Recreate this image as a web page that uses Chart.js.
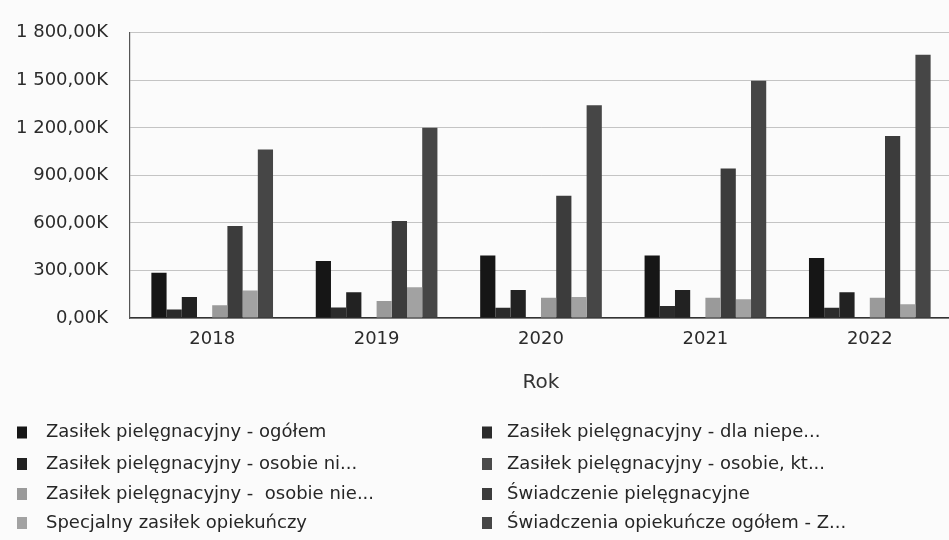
<!DOCTYPE html>
<html>
<head>
<meta charset="utf-8">
<script src="https://cdn.jsdelivr.net/npm/chart.js@4.4.0/dist/chart.umd.min.js"></script>
<style>
html, body { margin: 0; padding: 0; background: #fbfbfb; overflow: hidden; }
#wrap { position: relative; width: 952px; height: 540px; }
</style>
</head>
<body>
<div id="wrap"><canvas id="c" width="952" height="540"></canvas></div>
<script>
// ---- data (values in thousands) ----
const categories = ['2018', '2019', '2020', '2021', '2022'];
const seriesNames = [
  'Zasiłek pielęgnacyjny - ogółem',
  'Zasiłek pielęgnacyjny - dla niepe...',
  'Zasiłek pielęgnacyjny - osobie ni...',
  'Zasiłek pielęgnacyjny - osobie, kt...',
  'Zasiłek pielęgnacyjny -  osobie nie...',
  'Świadczenie pielęgnacyjne',
  'Specjalny zasiłek opiekuńczy',
  'Świadczenia opiekuńcze ogółem - Z...'
];
const zasilekOgolem        = [286, 359, 394, 394, 379];
const zasilekDlaNiepelnospr = [54, 66, 64, 76, 64];
const zasilekOsobieNi      = [132, 163, 177, 177, 163];
const zasilekOsobieKt      = [0, 0, 0, 0, 0];
const zasilekOsobieNie     = [80, 107, 128, 128, 128];
const swiadczeniePielegn   = [581, 612, 771, 944, 1148];
const specjalnyZasilek     = [173, 194, 132, 119, 87];
const swiadczeniaOgolem    = [1064, 1200, 1342, 1497, 1662];
const yTickValues = [0, 300, 600, 900, 1200, 1500, 1800];

const seriesValues = [zasilekOgolem, zasilekDlaNiepelnospr, zasilekOsobieNi, zasilekOsobieKt,
  zasilekOsobieNie, swiadczeniePielegn, specjalnyZasilek, swiadczeniaOgolem];
const seriesColors = ['#161616', '#2b2b2b', '#222222', '#4a4a4a', '#9a9a9a', '#3c3c3c', '#a2a2a2', '#464646'];

function fmtK(v) {
  const s = String(Math.round(v)).replace(/\B(?=(\d{3})+(?!\d))/g, ' ');
  return s + ',00K';
}

const FONT = 'DejaVu Sans';

const gridLegend = {
  id: 'gridLegend',
  afterDraw(chart) {
    const ctx = chart.ctx;
    const boxX = [17, 482];
    const textX = [46, 507];
    const rowY = [432.5, 464, 494, 523];
    ctx.save();
    ctx.font = '18px "' + FONT + '"';
    ctx.textBaseline = 'middle';
    ctx.textAlign = 'left';
    chart.data.datasets.forEach((ds, i) => {
      const r = Math.floor(i / 2), c = i % 2;
      ctx.fillStyle = ds.backgroundColor;
      ctx.fillRect(boxX[c], rowY[r] - 6, 10, 12);
      ctx.fillStyle = '#262626';
      ctx.fillText(ds.label, textX[c], rowY[r]);
    });
    ctx.restore();
  }
};

new Chart(document.getElementById('c'), {
  type: 'bar',
  data: {
    labels: categories,
    datasets: seriesNames.map((name, i) => ({
      label: name,
      data: seriesValues[i],
      backgroundColor: seriesColors[i],
      borderWidth: 0,
      barPercentage: 1,
      categoryPercentage: 0.74
    }))
  },
  options: {
    responsive: false,
    animation: false,
    layout: { padding: { top: 27, left: 0, right: 0, bottom: 0 } },
    plugins: { legend: { display: false }, tooltip: { enabled: false } },
    scales: {
      x: {
        grid: { display: false, drawTicks: false },
        border: { display: true, color: '#333333', width: 1.5 },
        ticks: { font: { family: FONT, size: 18 }, color: '#2b2b2b', padding: 11 },
        title: { display: true, text: 'Rok', font: { family: FONT, size: 20 }, color: '#333333', padding: { top: 4, bottom: 145 } },
        afterFit(s) { s.height = 222; }
      },
      y: {
        min: 0, max: 1800,
        afterBuildTicks(s) { s.ticks = yTickValues.map(v => ({ value: v })); },
        ticks: { font: { family: FONT, size: 18 }, color: '#2b2b2b', padding: 22, callback: v => fmtK(v) },
        grid: { color: '#c4c4c4', drawTicks: false },
        border: { display: true, color: '#555555', width: 1.2 },
        afterFit(s) { s.width = 130; }
      }
    }
  },
  plugins: [gridLegend]
});
</script>
</body>
</html>
